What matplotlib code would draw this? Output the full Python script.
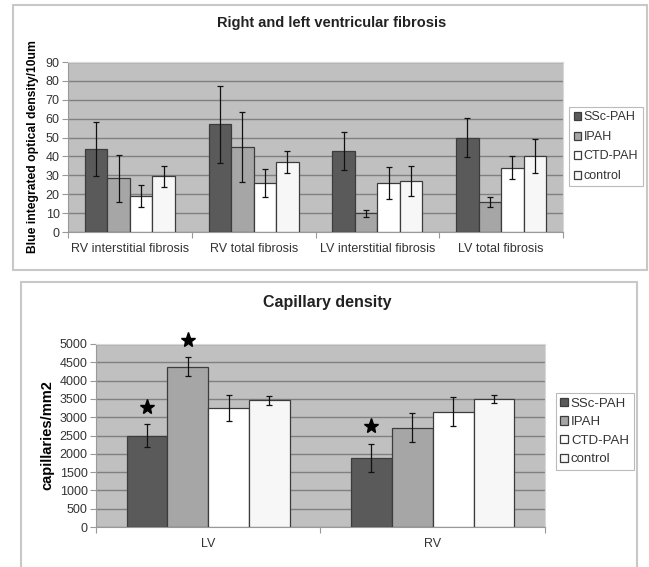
import numpy as np
import matplotlib.pyplot as plt
from matplotlib.patches import Rectangle

plt.rcParams['font.family'] = ['Liberation Sans', 'DejaVu Sans']

# --- data ---
groups = ['SSc-PAH', 'IPAH', 'CTD-PAH', 'control']
colors = ['#5a5a5a', '#a6a6a6', '#ffffff', '#f7f7f7']

fib_cats = ['RV interstitial fibrosis', 'RV total fibrosis',
            'LV interstitial fibrosis', 'LV total fibrosis']
fib_ssc = [44, 57, 43, 50]
fib_ipah = [28.5, 45, 10, 16]
fib_ctd = [19, 26, 26, 34]
fib_ctrl = [29.5, 37, 27, 40]
fib_ssc_err = [14.5, 20.5, 10, 10.5]
fib_ipah_err = [12.5, 18.5, 1.8, 2.8]
fib_ctd_err = [6, 7.5, 8.5, 6]
fib_ctrl_err = [5.5, 6, 8, 9]

cap_cats = ['LV', 'RV']
cap_ssc = [2500, 1890]
cap_ipah = [4375, 2710]
cap_ctd = [3250, 3150]
cap_ctrl = [3460, 3490]
cap_ssc_err = [320, 390]
cap_ipah_err = [260, 400]
cap_ctd_err = [350, 390]
cap_ctrl_err = [130, 110]
# which bars get a significance star (group index, category index)
cap_stars = [(0, 0), (1, 0), (0, 1)]

BAR_W = 1 / 5.5
PLOT_BG = '#c0c0c0'
GRID_C = '#808080'


def draw_panel(ax, cats, series, errs, ymax, ystep):
    n = len(series)
    x = np.arange(len(cats))
    for i, (vals, err) in enumerate(zip(series, errs)):
        pos = x + (i - (n - 1) / 2) * BAR_W
        ax.bar(pos, vals, BAR_W, color=colors[i], edgecolor='#3c3c3c',
               linewidth=0.9, label=groups[i], zorder=3)
        ax.errorbar(pos, vals, yerr=err, fmt='none', ecolor='#111111',
                    elinewidth=0.9, capsize=2.5, capthick=0.9, zorder=4)
    ax.set_facecolor(PLOT_BG)
    ax.set_xlim(-0.5, len(cats) - 0.5)
    ax.set_ylim(0, ymax)
    ax.set_yticks(np.arange(0, ymax + ystep / 2, ystep))
    ax.yaxis.grid(True, color=GRID_C, lw=1.0, zorder=0)
    ax.set_axisbelow(True)
    # category boundaries as ticks, labels at centres
    ax.set_xticks(np.arange(-0.5, len(cats), 1.0))
    ax.set_xticklabels([])
    ax.set_xticks(x, minor=True)
    ax.set_xticklabels(cats, minor=True, fontsize=9, color='#333333')
    ax.tick_params(axis='x', which='minor', length=0, pad=8)
    ax.tick_params(axis='x', which='major', length=4, color='#999999')
    ax.tick_params(axis='y', length=4, color='#999999', labelsize=9,
                   labelcolor='#333333', pad=2)
    for s in ['top', 'right']:
        ax.spines[s].set_color('#d8d8d8')
    for s in ['left', 'bottom']:
        ax.spines[s].set_color('#999999')
    return x


fig = plt.figure(figsize=(6.49, 5.67), dpi=100)

# outer chart borders
fig.patches.append(Rectangle((0.020, 0.524), 0.977, 0.467, transform=fig.transFigure,
                             fill=False, edgecolor='#c8c8c8', lw=1.5))
fig.patches.append(Rectangle((0.032, -0.02), 0.949, 0.523, transform=fig.transFigure,
                             fill=False, edgecolor='#c8c8c8', lw=1.5))

# --- top: fibrosis ---
ax1 = fig.add_axes([0.1048, 0.5908, 0.7627, 0.2998])
draw_panel(ax1, fib_cats, [fib_ssc, fib_ipah, fib_ctd, fib_ctrl],
           [fib_ssc_err, fib_ipah_err, fib_ctd_err, fib_ctrl_err], 90, 10)
ax1.set_ylabel('Blue integrated optical density/10um', fontsize=8.7,
               fontweight='bold', labelpad=5)
fig.text(0.511, 1 - 23 / 567, 'Right and left ventricular fibrosis', ha='center',
         va='center', fontsize=10.5, fontweight='bold', color='#222222')
leg1 = ax1.legend(loc='upper left', bbox_to_anchor=(1.013, 0.735), fontsize=9,
                  frameon=True, fancybox=False, edgecolor='#aaaaaa',
                  handlelength=0.6, handleheight=0.6, handletextpad=0.2,
                  labelspacing=0.6, borderpad=0.35, borderaxespad=0)

# --- bottom: capillary density ---
ax2 = fig.add_axes([0.1479, 0.0705, 0.6918, 0.3228])
cap_series = [cap_ssc, cap_ipah, cap_ctd, cap_ctrl]
cap_errs = [cap_ssc_err, cap_ipah_err, cap_ctd_err, cap_ctrl_err]
xc = draw_panel(ax2, cap_cats, cap_series, cap_errs, 5000, 500)
ax2.set_ylabel('capillaries/mm2', fontsize=10.5, fontweight='bold', labelpad=4)
fig.text(0.505, 1 - 302 / 567, 'Capillary density', ha='center', va='center',
         fontsize=11.5, fontweight='bold', color='#222222')
for gi, ci in cap_stars:
    sx = xc[ci] + (gi - 1.5) * BAR_W
    sy = cap_series[gi][ci] + cap_errs[gi][ci] + 470
    ax2.plot(sx, sy, marker='*', color='black', ms=11, clip_on=False, zorder=5)
leg2 = ax2.legend(loc='upper left', bbox_to_anchor=(1.024, 0.732), fontsize=9.5,
                  frameon=True, fancybox=False, edgecolor='#aaaaaa',
                  handlelength=0.6, handleheight=0.6, handletextpad=0.2,
                  labelspacing=0.5, borderpad=0.35, borderaxespad=0)

for leg in (leg1, leg2):
    leg.get_frame().set_linewidth(0.8)
    for t in leg.get_texts():
        t.set_color('#333333')

fig.savefig('out.png', dpi=100)
